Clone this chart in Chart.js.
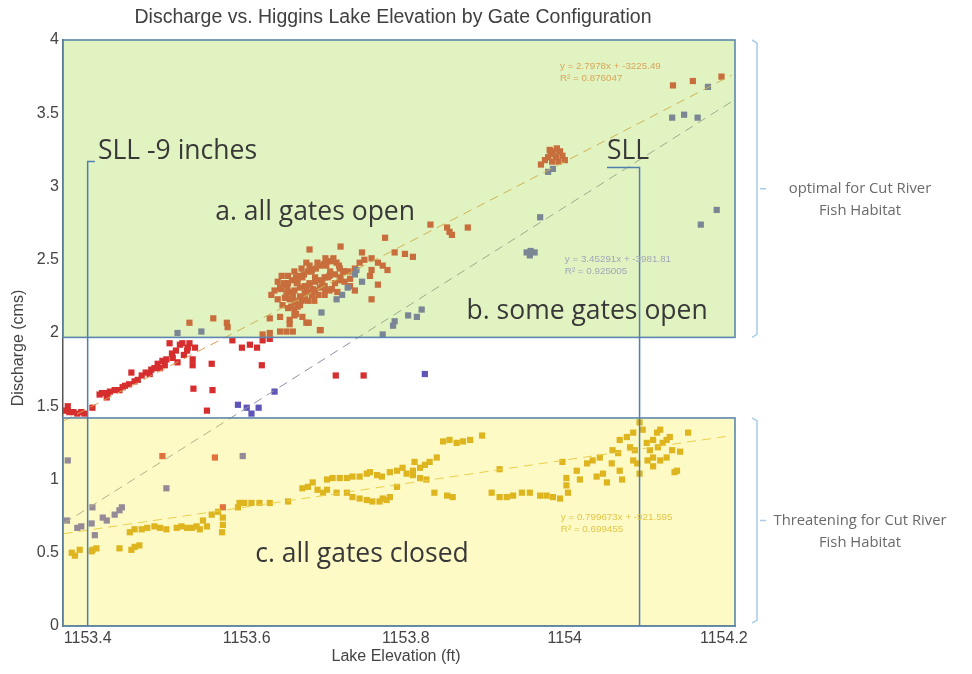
<!DOCTYPE html>
<html>
<head>
<meta charset="utf-8">
<script src="https://cdn.jsdelivr.net/npm/chart.js@4/dist/chart.umd.min.js"></script>
<style>
html, body { margin: 0; padding: 0; background: #fff; }
#wrap { width: 972px; height: 674px; position: relative; }
</style>
</head>
<body>
<div id="wrap"><canvas id="chart"></canvas></div>
<script>
const xTicks = [1153.4, 1153.6, 1153.8, 1154, 1154.2];
const yTicks = [0, 0.5, 1, 1.5, 2, 2.5, 3, 3.5, 4];

// a. all gates open
const openPts = [
  [1153.372,1.47],[1153.377,1.46],[1153.382,1.46],[1153.387,1.45],[1153.392,1.46],[1153.396,1.45],[1153.375,1.50],
  [1153.406,1.49],[1153.415,1.58],[1153.424,1.56],[1153.425,1.59],[1153.434,1.61],[1153.440,1.61],[1153.444,1.63],
  [1153.452,1.65],[1153.455,1.73],[1153.459,1.67],[1153.463,1.68],[1153.468,1.71],[1153.473,1.73],[1153.478,1.72],
  [1153.484,1.76],[1153.491,1.76],[1153.497,1.78],[1153.499,1.82],[1153.506,1.86],[1153.507,1.83],[1153.513,1.80],
  [1153.516,1.92],[1153.519,1.93],[1153.525,1.88],[1153.526,1.90],[1153.532,1.82],[1153.532,1.78],[1153.503,1.93],
  [1153.511,1.88],[1153.521,1.85],[1153.533,1.62],[1153.556,1.79],[1153.557,1.61],[1153.550,1.47],[1153.582,1.95],
  [1153.594,1.90],[1153.604,1.92],[1153.613,1.90],[1153.619,1.78],[1153.620,1.95],[1153.629,1.96],[1153.712,1.71],
  [1153.747,1.71],[1153.528,1.93],[1153.535,1.90],[1153.480,1.75],[1153.488,1.79],[1153.494,1.81],[1153.447,1.64],
  [1153.428,1.60],[1153.418,1.59],
  [1153.528,2.07],[1153.558,2.10],[1153.575,2.07],[1153.576,2.04],[1153.620,1.99],[1153.629,2.00],[1153.642,2.01],
  [1153.650,2.01],[1153.658,2.01],[1153.629,2.10],[1153.642,2.11],[1153.660,2.12],[1153.675,2.07],[1153.692,2.02],
  [1153.670,2.11],[1153.678,2.07],[1153.693,2.02],[1153.662,2.13],[1153.654,2.09],
  [1153.635,2.29],[1153.642,2.31],[1153.647,2.33],[1153.652,2.34],[1153.657,2.36],[1153.662,2.38],[1153.667,2.39],
  [1153.672,2.40],[1153.677,2.42],[1153.682,2.43],[1153.687,2.44],[1153.692,2.46],[1153.697,2.47],[1153.702,2.49],
  [1153.708,2.49],[1153.713,2.48],[1153.654,2.28],[1153.660,2.29],[1153.667,2.31],[1153.673,2.32],[1153.679,2.33],
  [1153.686,2.35],[1153.692,2.36],[1153.698,2.38],[1153.704,2.39],[1153.711,2.40],[1153.717,2.36],[1153.723,2.35],
  [1153.648,2.24],[1153.654,2.23],[1153.660,2.21],[1153.667,2.25],[1153.673,2.27],[1153.679,2.28],[1153.686,2.29],
  [1153.692,2.31],[1153.645,2.19],[1153.652,2.17],[1153.660,2.16],[1153.667,2.19],[1153.673,2.23],[1153.639,2.35],
  [1153.644,2.39],[1153.652,2.39],[1153.660,2.42],[1153.669,2.44],[1153.679,2.46],[1153.689,2.48],[1153.699,2.51],
  [1153.709,2.51],[1153.717,2.44],[1153.723,2.42],[1153.730,2.37],[1153.631,2.26],[1153.639,2.23],[1153.664,2.35],
  [1153.698,2.32],[1153.704,2.29],[1153.714,2.28],
  [1153.700,2.46],[1153.716,2.46],[1153.681,2.42],[1153.705,2.42],[1153.721,2.42],[1153.728,2.42],
  [1153.670,2.38],[1153.686,2.38],[1153.702,2.38],[1153.718,2.38],[1153.647,2.34],[1153.663,2.34],[1153.679,2.34],
  [1153.695,2.34],[1153.711,2.34],[1153.643,2.30],[1153.651,2.30],[1153.675,2.30],[1153.683,2.30],[1153.699,2.30],
  [1153.707,2.30],[1153.650,2.26],[1153.658,2.26],[1153.682,2.26],[1153.690,2.26],[1153.698,2.26],[1153.661,2.22],
  [1153.669,2.22],[1153.677,2.22],[1153.685,2.22],[1153.656,2.18],[1153.664,2.18],
  [1153.730,2.32],[1153.736,2.29],[1153.736,2.44],[1153.742,2.48],[1153.748,2.50],[1153.757,2.51],[1153.765,2.48],
  [1153.771,2.46],[1153.777,2.43],[1153.757,2.43],[1153.755,2.39],[1153.765,2.33],[1153.757,2.23],[1153.774,2.65],
  [1153.718,2.59],[1153.679,2.57],[1153.675,2.48],[1153.745,2.55],[1153.786,2.55],[1153.799,2.54],[1153.809,2.52],
  [1153.654,2.06],
  [1153.831,2.74],[1153.852,2.72],[1153.855,2.69],[1153.858,2.67],[1153.878,2.72],
  [1153.975,3.18],[1153.979,3.20],[1153.982,3.22],[1153.986,3.24],[1153.990,3.26],[1153.994,3.24],[1153.997,3.21],
  [1153.989,3.20],[1153.984,3.17],[1153.992,3.17],[1154.000,3.18],[1153.981,3.25],[1153.970,3.15],
  [1154.136,3.69],[1154.161,3.72],[1154.197,3.75],
  [1153.494,1.16],[1153.560,1.15],[1153.570,0.81]
];

// b. some gates open
const somePts = [
  [1153.589,1.51],[1153.600,1.49],[1153.606,1.45],[1153.615,1.49],[1153.635,1.60],[1153.824,1.72],
  [1153.375,1.13],[1153.374,0.72],[1153.387,0.67],[1153.392,0.68],[1153.405,0.70],[1153.406,0.81],[1153.409,0.62],
  [1153.419,0.74],[1153.424,0.72],[1153.434,0.76],[1153.440,0.79],[1153.443,0.81],[1153.499,0.94],[1153.595,1.16],
  [1153.771,1.99],[1153.786,2.08],[1153.784,2.05],[1153.803,2.12],[1153.814,2.11],[1153.820,2.16],[1153.694,2.14],
  [1153.713,2.23],[1153.720,2.26],[1153.727,2.31],[1153.736,2.40],[1153.745,2.35],[1153.738,2.43],
  [1153.952,2.55],[1153.957,2.56],[1153.962,2.55],[1153.956,2.53],[1153.969,2.79],[1153.979,3.10],[1153.985,3.12],
  [1154.135,3.47],[1154.150,3.49],[1154.167,3.47],[1154.180,3.68],[1154.191,2.84],[1154.171,2.74],
  [1153.513,2.00],[1153.543,2.01]
];

// c. all gates closed
const closedPts = [
  [1153.380,0.50],[1153.384,0.48],[1153.390,0.52],[1153.405,0.51],[1153.406,0.52],[1153.411,0.53],[1153.440,0.53],
  [1153.455,0.52],[1153.459,0.54],[1153.465,0.55],[1153.453,0.64],[1153.459,0.66],[1153.468,0.66],[1153.475,0.67],
  [1153.484,0.68],[1153.491,0.67],[1153.499,0.66],[1153.512,0.67],[1153.518,0.68],[1153.525,0.67],[1153.531,0.67],
  [1153.537,0.68],[1153.541,0.66],[1153.550,0.68],[1153.545,0.72],[1153.556,0.76],[1153.564,0.78],[1153.570,0.74],
  [1153.569,0.64],[1153.570,0.69],[1153.589,0.81],[1153.591,0.84],[1153.597,0.84],[1153.606,0.84],[1153.616,0.84],
  [1153.629,0.84],[1153.652,0.85],[1153.670,0.94],[1153.677,0.95],[1153.683,0.98],[1153.689,0.93],[1153.696,0.91],
  [1153.701,1.00],[1153.708,1.01],[1153.717,1.01],[1153.726,1.01],[1153.733,1.02],[1153.742,1.02],[1153.751,1.04],
  [1153.755,1.05],[1153.764,1.03],[1153.770,1.02],[1153.701,0.93],[1153.713,0.91],[1153.726,0.91],[1153.733,0.88],
  [1153.742,0.87],[1153.751,0.86],[1153.758,0.85],[1153.767,0.85],[1153.776,0.86],
  [1153.780,1.05],[1153.789,1.06],[1153.796,1.08],[1153.801,1.04],[1153.809,1.06],[1153.818,1.08],[1153.824,1.10],
  [1153.830,1.12],[1153.839,1.15],[1153.811,1.12],[1153.809,1.03],[1153.818,1.01],[1153.826,1.00],[1153.771,0.87],
  [1153.780,0.88],[1153.789,0.95],[1153.836,0.91],[1153.852,0.89],[1153.859,0.88],[1153.847,1.26],[1153.855,1.27],
  [1153.864,1.25],[1153.872,1.26],[1153.881,1.27],[1153.896,1.30],[1153.918,1.07],[1153.908,0.91],[1153.918,0.88],
  [1153.927,0.88],[1153.935,0.89],[1153.946,0.91],[1153.956,0.91],[1153.969,0.89],[1153.977,0.89],[1153.985,0.88],
  [1153.994,0.87],[1153.997,1.12],[1154.002,1.01],[1154.002,0.96],[1154.004,0.91],[1154.015,1.06],[1154.019,1.00],
  [1154.028,1.11],[1154.035,1.13],[1154.044,1.15],[1154.040,1.02],[1154.048,1.04],[1154.053,0.98],[1154.059,1.11],
  [1154.067,1.18],[1154.069,1.06],[1154.072,1.00],[1154.060,1.20],[1154.069,1.27],[1154.078,1.29],[1154.086,1.32],
  [1154.082,1.22],[1154.088,1.20],[1154.086,1.13],[1154.094,1.39],[1154.098,1.34],[1154.094,1.04],[1154.103,1.25],
  [1154.107,1.20],[1154.111,1.27],[1154.116,1.32],[1154.120,1.34],[1154.111,1.15],[1154.117,1.22],[1154.123,1.25],
  [1154.128,1.27],[1154.132,1.29],[1154.120,1.13],[1154.128,1.15],[1154.135,1.20],[1154.141,1.06],[1154.138,1.05],
  [1154.104,1.13],[1154.111,1.09],[1154.155,1.32],[1154.145,1.19],[1154.091,1.11]
];

// fitted trend lines, end points as drawn
const openFit = [[1153.37, 1.40], [1154.21, 3.76]];
const someFit = [[1153.37, 0.70], [1154.21, 3.58]];
const closedFit = [[1153.37, 0.63], [1154.21, 1.30]];

const toXY = pts => pts.map(p => ({ x: p[0], y: p[1] }));

const zones = [
  { top: 4, bottom: 1.97, fill: 'rgba(175,222,85,0.36)' },
  { top: 1.42, bottom: 0, fill: 'rgba(248,240,90,0.35)' }
];

const overlay = {
  id: 'overlay',
  afterDatasetsDraw(chart) {
    const { ctx, chartArea: a, scales: { x, y } } = chart;
    ctx.save();
    zones.forEach(z => {
      const t = y.getPixelForValue(z.top), b = y.getPixelForValue(z.bottom);
      ctx.fillStyle = z.fill;
      ctx.fillRect(a.left, t, a.right - a.left, b - t);
    });
    ctx.strokeStyle = '#5b87ad';
    ctx.lineWidth = 1.6;
    zones.forEach(z => {
      const t = y.getPixelForValue(z.top), b = y.getPixelForValue(z.bottom);
      ctx.strokeRect(a.left, t, a.right - a.left, b - t);
    });

    // SLL markers
    ctx.strokeStyle = '#4f7fae';
    ctx.lineWidth = 1.5;
    const sll = [[1153.4, 3.17, 1153.409], [1154.094, 3.13, 1154.053]];
    sll.forEach(s => {
      const px = x.getPixelForValue(s[0]), top = y.getPixelForValue(s[1]);
      ctx.beginPath();
      ctx.moveTo(px, y.getPixelForValue(0));
      ctx.lineTo(px, top);
      ctx.lineTo(x.getPixelForValue(s[2]), top);
      ctx.stroke();
    });

    // big labels
    ctx.fillStyle = '#383838';
    ctx.textBaseline = 'middle';
    ctx.font = '26.5px "Open Sans"';
    ctx.textAlign = 'left';
    ctx.fillText('SLL -9 inches', x.getPixelForValue(1153.413), y.getPixelForValue(3.24));
    ctx.fillText('SLL', x.getPixelForValue(1154.053), y.getPixelForValue(3.24));
    ctx.textAlign = 'center';
    ctx.fillText('a. all gates open', x.getPixelForValue(1153.686), y.getPixelForValue(2.82));
    ctx.fillText('b. some gates open', x.getPixelForValue(1154.028), y.getPixelForValue(2.15));
    ctx.fillText('c. all gates closed', x.getPixelForValue(1153.745), y.getPixelForValue(0.49));

    // fit equations
    ctx.textAlign = 'left';
    ctx.font = '9.8px "Liberation Sans"';
    const eqs = [
      ['#d9a45a', 1153.994, 3.82, 'y = 2.7978x + -3225.49', 'R² = 0.876047'],
      ['#a2a6b8', 1154.0, 2.50, 'y = 3.45291x + -3981.81', 'R² = 0.925005'],
      ['#e2c64a', 1153.995, 0.74, 'y = 0.799673x + -921.595', 'R² = 0.699455']
    ];
    eqs.forEach(e => {
      ctx.fillStyle = e[0];
      const px = x.getPixelForValue(e[1]), py = y.getPixelForValue(e[2]);
      ctx.fillText(e[3], px, py);
      ctx.fillText(e[4], px, py + 12);
    });

    // right-hand brackets and notes
    const bx = a.right + 22;
    ctx.strokeStyle = '#a9cde8';
    ctx.lineWidth = 1.5;
    const notes = [[4, 1.97, 'optimal for Cut River'], [1.42, 0.02, 'Threatening for Cut River']];
    ctx.font = '14.8px "Open Sans"';
    ctx.fillStyle = '#6a6a6a';
    ctx.textAlign = 'center';
    notes.forEach(n => {
      const t = y.getPixelForValue(n[0]), b = y.getPixelForValue(n[1]), m = (t + b) / 2;
      ctx.beginPath();
      ctx.moveTo(bx - 5, t);
      ctx.lineTo(bx, t + 3);
      ctx.lineTo(bx, b - 3);
      ctx.lineTo(bx - 5, b);
      ctx.moveTo(bx + 3, m);
      ctx.lineTo(bx + 9, m);
      ctx.stroke();
      ctx.fillText(n[2], a.right + 125, m);
      ctx.fillText('Fish Habitat', a.right + 125, m + 22);
    });

    // title and axis titles
    ctx.fillStyle = '#404040';
    ctx.font = '19.5px "Liberation Sans"';
    ctx.fillText('Discharge vs. Higgins Lake Elevation by Gate Configuration', 393, 18);
    ctx.fillStyle = '#444';
    ctx.font = '16px "Liberation Sans"';
    ctx.fillText('Lake Elevation (ft)', 396, 657);
    ctx.translate(19, 348);
    ctx.rotate(-Math.PI / 2);
    ctx.fillText('Discharge (cms)', 0, 0);
    ctx.restore();
  }
};

const sq = { pointStyle: 'rect', pointRadius: 4.4, pointHoverRadius: 4.4, borderWidth: 0, showLine: false };
const tickFont = { family: 'Liberation Sans', size: 16 };

new Chart(document.getElementById('chart'), {
  type: 'scatter',
  data: {
    datasets: [
      { type: 'line', data: toXY(openFit), borderColor: '#e19a50', borderWidth: 1, borderDash: [9, 6], pointRadius: 0, fill: false },
      { type: 'line', data: toXY(someFit), borderColor: '#8e90a8', borderWidth: 1, borderDash: [9, 6], pointRadius: 0, fill: false },
      { type: 'line', data: toXY(closedFit), borderColor: '#e3bb40', borderWidth: 1, borderDash: [9, 6], pointRadius: 0, fill: false },
      { data: toXY(closedPts), backgroundColor: '#d29600', ...sq },
      { data: toXY(somePts), backgroundColor: '#5f55b8', ...sq },
      { data: toXY(openPts), backgroundColor: '#d62e2e', ...sq }
    ]
  },
  options: {
    responsive: true,
    maintainAspectRatio: false,
    animation: false,
    layout: { padding: { left: 0, right: 237, top: 40, bottom: 0 } },
    plugins: { legend: { display: false }, tooltip: { enabled: false } },
    scales: {
      x: {
        type: 'linear', min: 1153.369, max: 1154.214,
        afterBuildTicks: s => { s.ticks = xTicks.map(v => ({ value: v })); },
        afterFit: s => { s.height = 48; },
        grid: { display: false, drawTicks: false },
        border: { color: '#555', width: 1.5 },
        ticks: { color: '#444', font: tickFont, padding: 3, maxRotation: 0,
                 callback: v => String(+v.toFixed(1)) }
      },
      y: {
        type: 'linear', min: 0, max: 4,
        afterBuildTicks: s => { s.ticks = yTicks.map(v => ({ value: v })); },
        afterFit: s => { s.width = 63; },
        grid: { display: false, drawTicks: false },
        border: { color: '#555', width: 1.5 },
        ticks: { color: '#444', font: tickFont, padding: 4,
                 callback: v => String(v) }
      }
    }
  },
  plugins: [overlay]
});
</script>
</body>
</html>
